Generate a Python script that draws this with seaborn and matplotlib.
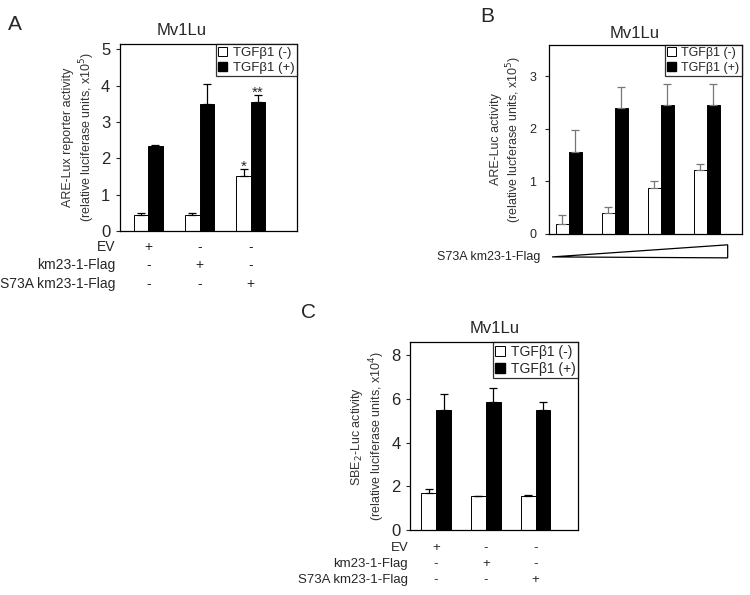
import numpy as np
import pandas as pd
import matplotlib
matplotlib.use("Agg")
import matplotlib.pyplot as plt
from matplotlib.patches import Patch
from matplotlib.transforms import blended_transform_factory
import seaborn as sns

# Panel A: ARE-Lux reporter, Mv1Lu
a_groups = ["EV", "km23-1-Flag", "S73A km23-1-Flag"]
a_neg = [0.45, 0.45, 1.50]
a_neg_err = [0.03, 0.03, 0.20]
a_pos = [2.35, 3.50, 3.55]
a_pos_err = [0.03, 0.55, 0.20]

# Panel B: ARE-Luc, increasing S73A km23-1-Flag
b_groups = ["d1", "d2", "d3", "d4"]
b_neg = [0.18, 0.40, 0.88, 1.22]
b_neg_err = [0.17, 0.12, 0.12, 0.11]
b_pos = [1.55, 2.40, 2.45, 2.45]
b_pos_err = [0.42, 0.40, 0.40, 0.40]

# Panel C: SBE2-Luc
c_groups = ["EV", "km23-1-Flag", "S73A km23-1-Flag"]
c_neg = [1.70, 1.55, 1.55]
c_neg_err = [0.20, 0.03, 0.05]
c_pos = [5.50, 5.85, 5.50]
c_pos_err = [0.75, 0.65, 0.35]

table_rows = ["EV", "km23-1-Flag", "S73A km23-1-Flag"]
table_marks = [["+", "-", "-"], ["-", "+", "-"], ["-", "-", "+"]]
hue_labels = ["TGF\u03b21 (-)", "TGF\u03b21 (+)"]

sns.set_style("white")
plt.rcParams["font.family"] = ["Liberation Sans", "DejaVu Sans"]


def bar_panel(ax, groups, neg, neg_err, pos, pos_err, width, err_color="black",
              tick_size=12, legend_size=9, pad=3):
    df = pd.DataFrame({
        "group": groups * 2,
        "value": neg + pos,
        "tgf": [hue_labels[0]] * len(groups) + [hue_labels[1]] * len(groups),
    })
    sns.barplot(data=df, x="group", y="value", hue="tgf",
                palette=["white", "black"], edgecolor="black", linewidth=0.7,
                width=width, ax=ax, legend=False, errorbar=None)
    idx = np.arange(len(groups))
    off = width / 4
    for xs, vals, errs in [(idx - off, neg, neg_err), (idx + off, pos, pos_err)]:
        ax.errorbar(xs, vals, yerr=[np.zeros(len(vals)), errs], fmt="none",
                    ecolor=err_color, elinewidth=0.9, capsize=2.8, capthick=0.9)
    ax.set_xlabel("")
    ax.set_xticks([])
    for s in ax.spines.values():
        s.set_visible(True)
        s.set_color("black")
        s.set_linewidth(0.9)
    ax.tick_params(axis="y", direction="out", length=3, width=0.8,
                   left=True, labelsize=tick_size, pad=pad)
    handles = [Patch(facecolor="white", edgecolor="black", linewidth=0.7),
               Patch(facecolor="black", edgecolor="black")]
    leg = ax.legend(handles, hue_labels, loc="upper right", borderaxespad=0,
                    fancybox=False, edgecolor="black", fontsize=legend_size,
                    handlelength=0.7, handleheight=0.7, handletextpad=0.4,
                    borderpad=0.2, labelspacing=0.2)
    leg.get_frame().set_linewidth(0.9)
    return idx


def add_table(ax, idx, label_x, row_y, size):
    tr = blended_transform_factory(ax.transData, ax.transAxes)
    for r, name in enumerate(table_rows):
        ax.text(label_x, row_y[r], name, transform=ax.transAxes, ha="right",
                va="center", fontsize=size)
        for c, m in enumerate(table_marks[r]):
            ax.text(idx[c], row_y[r], m, transform=tr, ha="center",
                    va="center", fontsize=size)


fig = plt.figure(figsize=(7.5, 5.95), dpi=100)

# Panel A
axA = fig.add_axes([0.16, 0.612, 0.236, 0.314])
idx = bar_panel(axA, a_groups, a_neg, a_neg_err, a_pos, a_pos_err, 0.56,
                legend_size=9.5, pad=4)
axA.set_xlim(-0.55, 2.9)
axA.set_ylim(0, 5.15)
axA.set_yticks([0, 1, 2, 3, 4, 5])
axA.set_ylabel("ARE-Lux reporter activity\n(relative luciferase units, x10$^5$)",
               fontsize=9, labelpad=3, color="#333333")
axA.text(0.35, 1.03, "Mv1Lu", transform=axA.transAxes, ha="center",
         va="bottom", fontsize=12)
axA.text(idx[2] - 0.14, a_neg[2] + a_neg_err[2] - 0.05, "*", ha="center",
         va="baseline", fontsize=11)
axA.text(idx[2] + 0.14, a_pos[2] + a_pos_err[2] - 0.05, "**", ha="center",
         va="baseline", fontsize=11)
add_table(axA, idx, -0.028, [-0.088, -0.185, -0.285], 10)

# Panel B
axB = fig.add_axes([0.732, 0.607, 0.257, 0.318])
idx = bar_panel(axB, b_groups, b_neg, b_neg_err, b_pos, b_pos_err, 0.56,
                err_color="#777777", tick_size=9, legend_size=9, pad=6)
axB.set_xlim(-0.43, 3.76)
axB.set_ylim(0, 3.6)
axB.set_yticks([0, 1, 2, 3])
axB.set_ylabel("ARE-Luc activity\n(relative lucferase units, x10$^5$)",
               fontsize=9, labelpad=4, color="#333333")
axB.text(0.446, 1.02, "Mv1Lu", transform=axB.transAxes, ha="center",
         va="bottom", fontsize=12)
axB.fill([0.016, 0.927, 0.927], [-0.122, -0.058, -0.127], transform=axB.transAxes,
         facecolor="white", edgecolor="black", linewidth=0.9, clip_on=False)
axB.text(-0.047, -0.122, "S73A km23-1-Flag", transform=axB.transAxes,
         ha="right", va="center", fontsize=9)

# Panel C
axC = fig.add_axes([0.547, 0.109, 0.224, 0.316])
idx = bar_panel(axC, c_groups, c_neg, c_neg_err, c_pos, c_pos_err, 0.6,
                tick_size=12, legend_size=10, pad=4)
axC.set_xlim(-0.52, 2.86)
axC.set_ylim(0, 8.6)
axC.set_yticks([0, 2, 4, 6, 8])
axC.set_ylabel("SBE$_2$-Luc activity\n(relative luciferase units, x10$^4$)",
               fontsize=9, labelpad=3, color="#333333")
axC.text(0.5, 1.035, "Mv1Lu", transform=axC.transAxes, ha="center",
         va="bottom", fontsize=12)
add_table(axC, idx, -0.012, [-0.095, -0.18, -0.265], 9.5)

fig.text(15 / 750, 1 - 25 / 595, "A", fontsize=15, ha="center", va="center")
fig.text(487 / 750, 1 - 16 / 595, "B", fontsize=15, ha="center", va="center")
fig.text(309 / 750, 1 - 313 / 595, "C", fontsize=15, ha="center", va="center")

fig.savefig("out.png", dpi=100, facecolor="white")
